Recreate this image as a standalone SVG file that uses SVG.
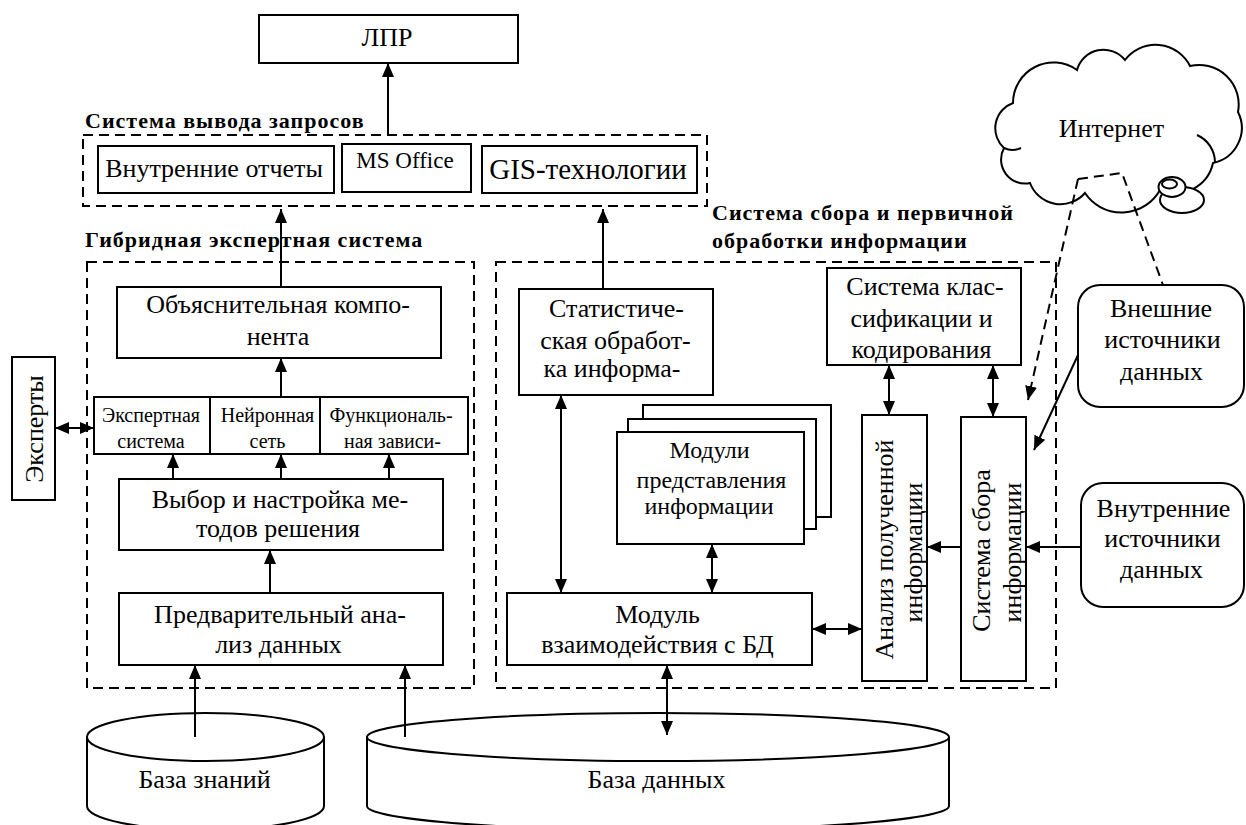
<svg xmlns="http://www.w3.org/2000/svg" width="1246" height="825" viewBox="0 0 1246 825">
<style>
.box{fill:#fff;stroke:#000;stroke-width:2}
.dash{fill:none;stroke:#000;stroke-width:2;stroke-dasharray:10 6}
.ln{fill:none;stroke:#000;stroke-width:2}
.dl{fill:none;stroke:#000;stroke-width:2;stroke-dasharray:10 6}
.t{font-family:"Liberation Serif",serif;font-size:26px;text-anchor:middle}
.s{font-family:"Liberation Serif",serif;font-size:20px;text-anchor:middle}
.m{font-family:"Liberation Serif",serif;font-size:24px;text-anchor:middle}
.v{font-family:"Liberation Serif",serif;font-size:26px;text-anchor:middle}
.b{font-family:"Liberation Serif",serif;font-size:22px;font-weight:bold;letter-spacing:1px}
</style>
<defs>
<marker id="arr" viewBox="0 0 14 12" markerWidth="14" markerHeight="12" refX="14" refY="6" orient="auto-start-reverse" markerUnits="userSpaceOnUse"><path d="M0,0 L14,6 L0,12 Z" fill="#000"/></marker>
</defs>
<rect width="1246" height="825" fill="#fff"/>

<g id="lpr"><rect class="box" x="259" y="15" width="259" height="48"/><text class="t" font-family="Liberation Serif, serif" x="387" y="46">ЛПР</text></g>

<g id="output-system">
<rect class="dash" x="83" y="135" width="624" height="71"/>
<text class="b" font-family="Liberation Serif, serif" x="85" y="128">Система вывода запросов</text>
</g>
<g id="internal-reports"><rect class="box" x="98" y="146" width="236" height="47"/><text class="t" font-family="Liberation Serif, serif" x="214" y="177">Внутренние отчеты</text></g>
<g id="ms-office"><rect class="box" x="342" y="144" width="129" height="48"/><text class="m" font-family="Liberation Serif, serif" x="405" y="168" style="font-size:23px">MS Office</text></g>
<g id="gis"><rect class="box" x="482" y="146" width="215" height="47"/><text class="t" font-family="Liberation Serif, serif" x="588" y="179" style="font-size:29px">GIS-технологии</text></g>

<g id="hybrid-es">
<rect class="dash" x="87" y="262" width="387" height="426"/>
<text class="b" font-family="Liberation Serif, serif" x="85" y="247">Гибридная экспертная система</text>
</g>
<g id="explain"><rect class="box" x="117" y="287" width="324" height="71"/>
<text class="t" font-family="Liberation Serif, serif" x="278" y="313">Объяснительная компо-</text>
<text class="t" font-family="Liberation Serif, serif" x="278" y="345">нента</text></g>
<g id="expert-sys"><rect class="box" x="94" y="397" width="116" height="57"/>
<text class="s" font-family="Liberation Serif, serif" x="151" y="422">Экспертная</text>
<text class="s" font-family="Liberation Serif, serif" x="151" y="448">система</text></g>
<g id="neural"><rect class="box" x="210" y="397" width="110" height="57"/>
<text class="s" font-family="Liberation Serif, serif" x="267.5" y="422">Нейронная</text>
<text class="s" font-family="Liberation Serif, serif" x="267.5" y="448">сеть</text></g>
<g id="functional"><rect class="box" x="320" y="397" width="148" height="57"/>
<text class="s" font-family="Liberation Serif, serif" x="391" y="422">Функциональ-</text>
<text class="s" font-family="Liberation Serif, serif" x="392.5" y="448">ная зависи-</text></g>
<g id="choice"><rect class="box" x="119" y="479" width="324" height="71"/>
<text class="t" font-family="Liberation Serif, serif" x="280" y="508">Выбор и настройка ме-</text>
<text class="t" font-family="Liberation Serif, serif" x="278" y="537">тодов решения</text></g>
<g id="prelim"><rect class="box" x="119" y="593" width="324" height="72"/>
<text class="t" font-family="Liberation Serif, serif" x="280" y="623">Предварительный ана-</text>
<text class="t" font-family="Liberation Serif, serif" x="278.5" y="653">лиз данных</text></g>

<g id="experts"><rect class="box" x="12" y="357" width="43" height="143"/>
<text class="v" font-family="Liberation Serif, serif" transform="translate(43,429) rotate(-90)" x="0" y="0">Эксперты</text></g>

<g id="collect-system">
<rect class="dash" x="496" y="262" width="560" height="426"/>
<text class="b" font-family="Liberation Serif, serif" x="712" y="220">Система сбора и первичной</text>
<text class="b" font-family="Liberation Serif, serif" x="712" y="248">обработки информации</text>
</g>
<g id="stat"><rect class="box" x="519" y="289" width="194" height="106"/>
<text class="t" font-family="Liberation Serif, serif" x="616.5" y="317">Статистиче-</text>
<text class="t" font-family="Liberation Serif, serif" x="615.5" y="349">ская обработ-</text>
<text class="t" font-family="Liberation Serif, serif" x="612" y="377">ка информа-</text></g>
<g id="present-modules">
<rect class="box" x="643" y="405" width="188" height="112"/>
<rect class="box" x="628" y="419" width="188" height="110"/>
<rect class="box" x="617" y="432" width="187" height="112"/>
<text class="m" font-family="Liberation Serif, serif" x="709.5" y="458">Модули</text>
<text class="m" font-family="Liberation Serif, serif" x="711.5" y="488">представления</text>
<text class="m" font-family="Liberation Serif, serif" x="709" y="514">информации</text></g>
<g id="db-module"><rect class="box" x="507" y="593" width="305" height="72"/>
<text class="t" font-family="Liberation Serif, serif" x="657.5" y="623">Модуль</text>
<text class="t" font-family="Liberation Serif, serif" x="657.5" y="653">взаимодействия с БД</text></g>
<g id="classify"><rect class="box" x="827" y="268" width="194" height="97"/>
<text class="t" font-family="Liberation Serif, serif" x="925" y="295">Система клас-</text>
<text class="t" font-family="Liberation Serif, serif" x="921.5" y="327">сификации и</text>
<text class="t" font-family="Liberation Serif, serif" x="921.5" y="358">кодирования</text></g>
<g id="analysis"><rect class="box" x="862" y="415" width="65" height="266"/>
<text class="v" font-family="Liberation Serif, serif" transform="translate(893,549.5) rotate(-90)" x="0" y="0">Анализ полученной</text>
<text class="v" font-family="Liberation Serif, serif" transform="translate(922,552.5) rotate(-90)" x="0" y="0">информации</text></g>
<g id="collect"><rect class="box" x="961" y="417" width="65" height="264"/>
<text class="v" font-family="Liberation Serif, serif" transform="translate(990,550.5) rotate(-90)" x="0" y="0">Система сбора</text>
<text class="v" font-family="Liberation Serif, serif" transform="translate(1021,552.5) rotate(-90)" x="0" y="0">информации</text></g>

<g id="ext-sources"><rect class="box" x="1078" y="285" width="166" height="122" rx="22" ry="22"/>
<text class="t" font-family="Liberation Serif, serif" x="1161" y="317">Внешние</text>
<text class="t" font-family="Liberation Serif, serif" x="1162.5" y="348">источники</text>
<text class="t" font-family="Liberation Serif, serif" x="1161.5" y="380">данных</text></g>
<g id="int-sources"><rect class="box" x="1081" y="483" width="163" height="124" rx="22" ry="22"/>
<text class="t" font-family="Liberation Serif, serif" x="1163.5" y="517">Внутренние</text>
<text class="t" font-family="Liberation Serif, serif" x="1162.5" y="547">источники</text>
<text class="t" font-family="Liberation Serif, serif" x="1161.5" y="578">данных</text></g>

<g id="internet">
<path class="box" d="M1013,103 A40.5,40.5 0 0 1 1077,70 A27.5,27.5 0 0 1 1125,60 A38.5,38.5 0 0 1 1190,66 A39.6,39.6 0 0 1 1238,112 A35.8,35.8 0 0 1 1213,163 A38.5,38.5 0 0 1 1160,190 A44,44 0 0 1 1085,193 A32.5,32.5 0 0 1 1030,183 A24,24 0 0 1 1004,148 A26.8,26.8 0 0 1 1013,103 Z"/>
<path class="ln" d="M1197,135 A30,30 0 0 1 1215,162"/>
<path class="ln" d="M1004,148 A20,20 0 0 0 1021,148"/>
<ellipse class="box" cx="1182" cy="200" rx="22" ry="13"/>
<ellipse class="box" cx="1172" cy="187" rx="13.5" ry="10"/>
<ellipse class="box" cx="1169.5" cy="184" rx="7.5" ry="4.5"/>
<text class="t" font-family="Liberation Serif, serif" x="1111.5" y="137">Интернет</text>
</g>

<g id="kb"><path class="box" d="M87,737 L87,806 A118.5,24 0 0 0 324,806 L324,737"/><ellipse class="box" cx="205.5" cy="737" rx="118.5" ry="24"/>
<text class="t" font-family="Liberation Serif, serif" x="204.5" y="788">База знаний</text></g>
<g id="db"><path class="box" d="M367,737 L367,806 A291,24 0 0 0 949,806 L949,737"/><ellipse class="box" cx="658" cy="737" rx="291" ry="24"/>
<text class="t" font-family="Liberation Serif, serif" x="656.5" y="788">База данных</text></g>

<g id="connectors">
<line class="ln" x1="388" y1="135" x2="388" y2="63" marker-end="url(#arr)"/>
<line class="ln" x1="281" y1="287" x2="281" y2="209" marker-end="url(#arr)"/>
<line class="ln" x1="603" y1="289" x2="603" y2="209" marker-end="url(#arr)"/>
<line class="ln" x1="281" y1="397" x2="281" y2="358" marker-end="url(#arr)"/>
<line class="ln" x1="173" y1="479" x2="173" y2="454" marker-end="url(#arr)"/>
<line class="ln" x1="281" y1="479" x2="281" y2="454" marker-end="url(#arr)"/>
<line class="ln" x1="389" y1="479" x2="389" y2="454" marker-end="url(#arr)"/>
<line class="ln" x1="270" y1="593" x2="270" y2="550" marker-end="url(#arr)"/>
<line class="ln" x1="195" y1="737" x2="195" y2="665" marker-end="url(#arr)"/>
<line class="ln" x1="405" y1="737" x2="405" y2="665" marker-end="url(#arr)"/>
<line class="ln" x1="55" y1="428" x2="94" y2="428" marker-start="url(#arr)" marker-end="url(#arr)"/>
<line class="ln" x1="561" y1="395" x2="561" y2="593" marker-start="url(#arr)" marker-end="url(#arr)"/>
<line class="ln" x1="712" y1="544" x2="712" y2="593" marker-start="url(#arr)" marker-end="url(#arr)"/>
<line class="ln" x1="667" y1="665" x2="667" y2="735" marker-start="url(#arr)" marker-end="url(#arr)"/>
<line class="ln" x1="812" y1="629" x2="862" y2="629" marker-start="url(#arr)" marker-end="url(#arr)"/>
<line class="ln" x1="889" y1="365" x2="889" y2="415" marker-start="url(#arr)" marker-end="url(#arr)"/>
<line class="ln" x1="993" y1="365" x2="993" y2="417" marker-start="url(#arr)" marker-end="url(#arr)"/>
<line class="ln" x1="961" y1="547" x2="927" y2="547" marker-end="url(#arr)"/>
<line class="ln" x1="1081" y1="547" x2="1026" y2="547" marker-end="url(#arr)"/>
<line class="ln" x1="1078" y1="355" x2="1034" y2="450" marker-end="url(#arr)"/>
<line class="dl" x1="1078" y1="179" x2="1028" y2="400" marker-end="url(#arr)"/>
<polyline class="dl" points="1078,179 1122,173 1163,285"/>
</g>
</svg>
